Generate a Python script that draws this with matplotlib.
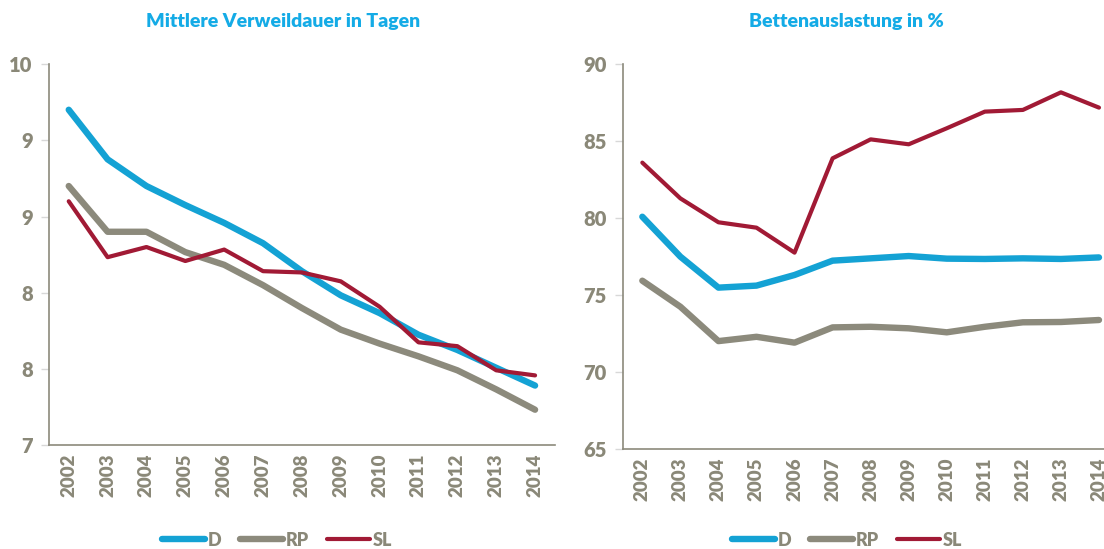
import numpy as np
import matplotlib
matplotlib.use('Agg')
import matplotlib.pyplot as plt
from matplotlib.ticker import FuncFormatter

plt.rcParams['font.family'] = ['Lato', 'DejaVu Sans']
plt.rcParams['font.weight'] = 'bold'

years = ['2002', '2003', '2004', '2005', '2006', '2007', '2008',
         '2009', '2010', '2011', '2012', '2013', '2014']

# Mittlere Verweildauer in Tagen
vwd_d = [9.64, 9.25, 9.04, 8.89, 8.75, 8.59, 8.37, 8.18, 8.04, 7.87, 7.75, 7.61, 7.47]
vwd_rp = [9.04, 8.68, 8.68, 8.52, 8.42, 8.26, 8.08, 7.91, 7.80, 7.70, 7.59, 7.44, 7.28]
vwd_sl = [8.92, 8.48, 8.56, 8.45, 8.54, 8.37, 8.36, 8.29, 8.09, 7.81, 7.78, 7.59, 7.55]

# Bettenauslastung in %
ba_d = [80.09, 77.50, 75.49, 75.62, 76.31, 77.24, 77.39, 77.54, 77.37, 77.35, 77.39, 77.35, 77.45]
ba_rp = [75.94, 74.25, 72.02, 72.30, 71.92, 72.91, 72.95, 72.85, 72.59, 72.95, 73.24, 73.26, 73.39]
ba_sl = [83.60, 81.28, 79.73, 79.38, 77.76, 83.88, 85.11, 84.79, 85.83, 86.91, 87.02, 88.16, 87.17]

c_d = '#14A2D4'
c_rp = '#8C8A7C'
c_sl = '#A11A35'
c_txt = '#8A8878'
c_title = '#14ABE6'

W, H = 1104, 549
fig = plt.figure(figsize=(W / 100, H / 100), dpi=100)


def px_axes(x0, x1, y0, y1):
    return fig.add_axes([x0 / W, 1 - y1 / H, (x1 - x0) / W, (y1 - y0) / H])


def style(ax, ylo, yhi, ticks, fmt):
    x = np.arange(len(years))
    ax.set_xlim(-0.5, len(years) - 0.5)
    ax.set_ylim(ylo, yhi)
    ax.set_xticks(x)
    ax.set_xticklabels(years, rotation=90, fontsize=13.5, color=c_txt, fontweight='heavy')
    ax.set_yticks(ticks)
    ax.yaxis.set_major_formatter(FuncFormatter(fmt))
    for lab in ax.get_yticklabels():
        lab.set_fontsize(14.5)
        lab.set_color(c_txt)
        lab.set_fontweight('heavy')
    ax.tick_params(axis='x', length=0, pad=6)
    ax.tick_params(axis='y', length=6, color='#D8D8D8', width=1, pad=6)
    for s in ['top', 'right']:
        ax.spines[s].set_visible(False)
    for s in ['left', 'bottom']:
        ax.spines[s].set_color('#8C8A7C')
        ax.spines[s].set_linewidth(1.2)
    ax.set_facecolor('none')


x = np.arange(len(years))

# left chart
ax1 = px_axes(49.3, 554.5, 64, 445.3)
ax1.plot(x, vwd_d, color=c_d, lw=4.6, solid_capstyle='round', label='D')
ax1.plot(x, vwd_rp, color=c_rp, lw=4.6, solid_capstyle='round', label='RP')
ax1.plot(x, vwd_sl, color=c_sl, lw=3.0, solid_capstyle='round', label='SL')
style(ax1, 7, 10, np.linspace(7, 10, 6), lambda v, p: f'{v:.0f}')

# right chart (runs past the right edge like the original)
ax2 = px_axes(623.3, 1118, 64, 449.3)
ax2.plot(x, ba_d, color=c_d, lw=4.6, solid_capstyle='round', label='D')
ax2.plot(x, ba_rp, color=c_rp, lw=4.6, solid_capstyle='round', label='RP')
ax2.plot(x, ba_sl, color=c_sl, lw=3.0, solid_capstyle='round', label='SL')
style(ax2, 65, 90, np.arange(65, 91, 5), lambda v, p: f'{v:.0f}')

fig.text(283 / W, 1 - 22 / H, 'Mittlere Verweildauer in Tagen', ha='center', va='center',
         fontsize=14, fontweight='heavy', color=c_title)
fig.text(846 / W, 1 - 22 / H, 'Bettenauslastung in %', ha='center', va='center',
         fontsize=14, fontweight='heavy', color=c_title)

for ax, cx in [(ax1, 277), (ax2, 847)]:
    h, l = ax.get_legend_handles_labels()
    leg = fig.legend(h, l, loc='center', bbox_to_anchor=(cx / W, 1 - 540 / H), ncol=3,
                     frameon=False, handlelength=2.4, handletextpad=0.15, columnspacing=1.0,
                     prop={'size': 13, 'weight': 'heavy'})
    for t in leg.get_texts():
        t.set_color(c_txt)

fig.savefig('out.png', dpi=100)
